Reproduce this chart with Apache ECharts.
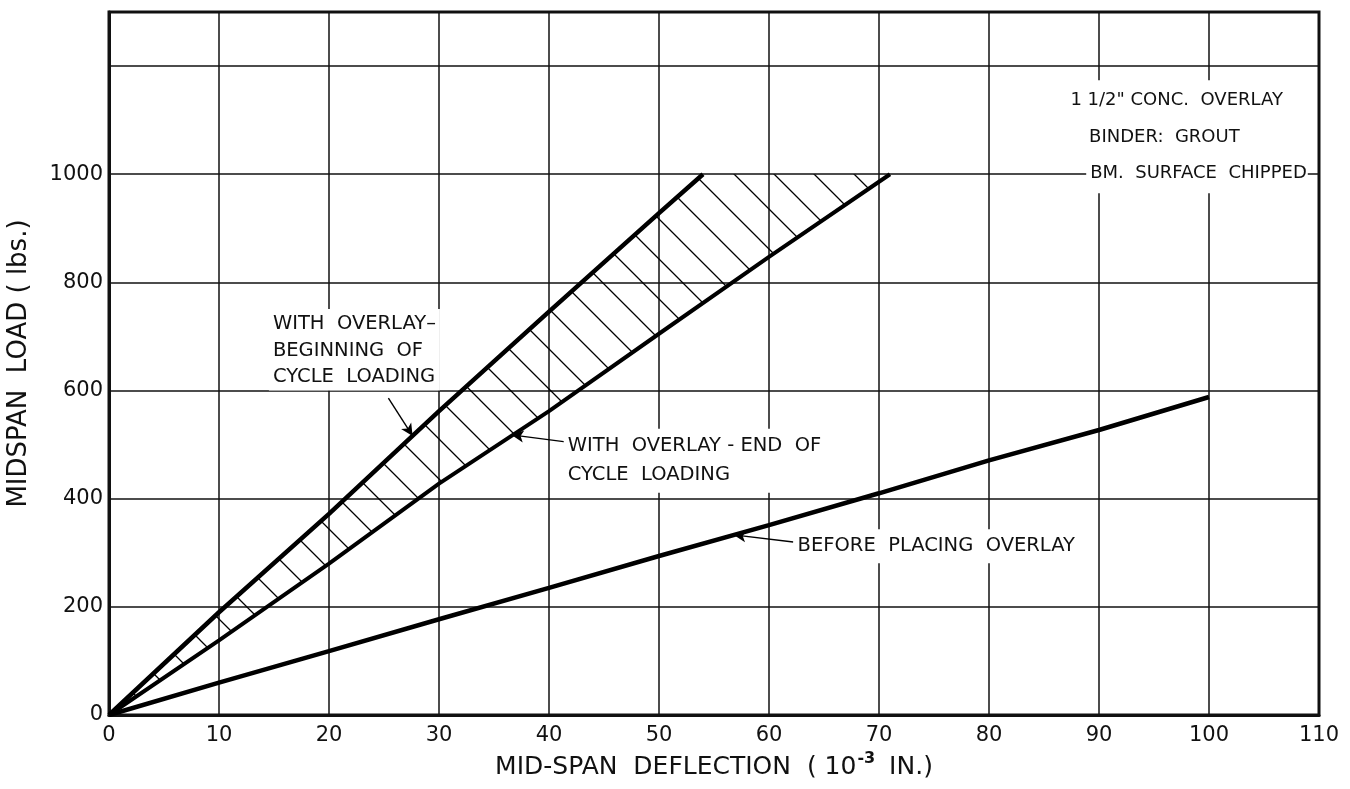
<!DOCTYPE html>
<html>
<head>
<meta charset="utf-8">
<script src="https://cdn.jsdelivr.net/npm/echarts@6/dist/echarts.min.js"></script>
<style>
  html, body { margin: 0; padding: 0; background: #fff; }
  #chart { width: 1350px; height: 789px; }
</style>
</head>
<body>
<div id="chart"></div>
<script>
// Mid-span deflection (10^-3 in.) vs. midspan load (lbs.)
const beforeOverlay = [[0, 0], [10, 60], [20, 118], [30, 177], [40, 235], [50, 294], [60, 351], [70, 410], [80, 471], [90, 527], [100, 588]];
const overlayBegin  = [[0, 0], [10, 190], [20, 372], [30, 562], [40, 746], [50, 928], [54, 1000]];
const overlayEnd    = [[0, 0], [10, 138], [20, 280], [30, 428], [40, 562], [50, 705], [60, 847], [71, 1000]];
const yTickLabels   = [0, 200, 400, 600, 800, 1000];

const FONT = 'DejaVu Sans';
const INK = '#111';

// Band between the two overlay curves (closed polygon)
const bandPolygon = overlayBegin.concat(overlayEnd.slice().reverse());

// Diagonal hatch tile for the band
function hatchPattern(size) {
  const c = document.createElement('canvas');
  c.width = size; c.height = size;
  const g = c.getContext('2d');
  g.strokeStyle = '#000';
  g.lineWidth = 1.3;
  g.beginPath();
  g.moveTo(-3, -3); g.lineTo(size + 3, size + 3);
  g.moveTo(size - 3, -3); g.lineTo(size + 3, 3);
  g.moveTo(-3, size - 3); g.lineTo(3, size + 3);
  g.stroke();
  return { image: c, repeat: 'repeat' };
}

const chart = echarts.init(document.getElementById('chart'), null, { renderer: 'canvas' });

chart.setOption({
  animation: false,
  backgroundColor: '#fff',
  grid: {
    left: 109, right: 31, top: 12, bottom: 74,
    outerBoundsMode: 'none',
    show: true, borderColor: INK, borderWidth: 3
  },
  xAxis: {
    type: 'value', min: 0, max: 110, interval: 10,
    axisLine: { show: true, lineStyle: { color: INK, width: 3 } },
    axisTick: { show: false },
    splitLine: { show: true, lineStyle: { color: INK, width: 1.5 } },
    axisLabel: { color: INK, fontFamily: FONT, fontSize: 21, margin: 10 },
    name: 'MID-SPAN  DEFLECTION  ( 10{sup|-3} IN.)',
    nameLocation: 'middle', nameGap: 36,
    nameTextStyle: {
      color: INK, fontFamily: FONT, fontSize: 25, lineHeight: 32,
      rich: { sup: { fontFamily: FONT, fontSize: 16, fontWeight: 'bold', color: INK, verticalAlign: 'top', lineHeight: 32, padding: [0, 6, 16, 1] } }
    }
  },
  yAxis: {
    type: 'value', min: 0, max: 1300, interval: 200,
    axisLine: { show: true, lineStyle: { color: INK, width: 3 } },
    axisTick: { show: false },
    splitLine: { show: true, lineStyle: { color: INK, width: 1.5 } },
    axisLabel: {
      color: INK, fontFamily: FONT, fontSize: 21, margin: 6,
      formatter: v => (yTickLabels.indexOf(v) >= 0 ? String(v) : '')
    },
    name: 'MIDSPAN  LOAD ( lbs.)',
    nameLocation: 'middle', nameGap: 77,
    nameTextStyle: { color: INK, fontFamily: FONT, fontSize: 26 }
  },
  series: [
    {
      type: 'custom',
      name: 'band',
      coordinateSystem: 'cartesian2d',
      data: bandPolygon,
      z: 1,
      silent: true,
      renderItem: function (params, api) {
        if (params.dataIndex !== 0) return null;
        const pts = bandPolygon.map(p => api.coord(p));
        return {
          type: 'polygon',
          shape: { points: pts },
          style: { fill: hatchPattern(40), stroke: null }
        };
      }
    },
    {
      type: 'line', name: 'WITH OVERLAY-BEGINNING OF CYCLE LOADING',
      data: overlayBegin, symbol: 'none', z: 3,
      lineStyle: { color: '#000', width: 4.5 }
    },
    {
      type: 'line', name: 'WITH OVERLAY-END OF CYCLE LOADING',
      data: overlayEnd, symbol: 'none', z: 3,
      lineStyle: { color: '#000', width: 4 }
    },
    {
      type: 'line', name: 'BEFORE PLACING OVERLAY',
      data: beforeOverlay, symbol: 'none', z: 3,
      lineStyle: { color: '#000', width: 4.5 },
      markLine: {
        silent: true,
        symbol: ['none', 'arrow'],
        symbolSize: [9, 12],
        label: { show: false },
        lineStyle: { color: '#000', width: 1.4, type: 'solid' },
        data: [
          [{ coord: [25.4, 586] }, { coord: [27.6, 516] }],
          [{ coord: [41.5, 505] }, { coord: [36.6, 518] }],
          [{ coord: [62.2, 320] }, { coord: [56.8, 333] }]
        ]
      }
    }
  ]
});

// Annotation text, anchored in data coordinates
const notes = [
  { at: [14.9, 747], text: 'WITH  OVERLAY–\nBEGINNING  OF\nCYCLE  LOADING', size: 19.5, lh: 26.5, pad: [2, 4, 0, 4] },
  { at: [41.7, 524], text: 'WITH  OVERLAY - END  OF\nCYCLE  LOADING', size: 19.5, lh: 29, pad: [3, 6, 3, 4] },
  { at: [62.6, 338], text: 'BEFORE  PLACING  OVERLAY', size: 19.5, lh: 28, pad: [3, 6, 3, 4] },
  { at: [87.4, 1170], text: '1 1/2" CONC.  OVERLAY', size: 18, lh: 36, pad: [2, 24, 1, 4] },
  { at: [89.1, 1102], text: 'BINDER:  GROUT', size: 18, lh: 36, pad: [2, 72, 1, 4] },
  { at: [89.2, 1035], text: 'BM.  SURFACE  CHIPPED', size: 18, lh: 36, pad: [2, 1, 2, 4] }
];

chart.setOption({
  graphic: notes.map(n => {
    const p = chart.convertToPixel({ gridIndex: 0 }, n.at);
    return {
      type: 'text',
      x: p[0] - n.pad[3],
      y: p[1] - n.pad[0],
      z: 10,
      silent: true,
      style: {
        text: n.text,
        fill: INK,
        fontFamily: FONT,
        fontSize: n.size,
        lineHeight: n.lh,
        align: 'left',
        verticalAlign: 'top',
        backgroundColor: '#fff',
        padding: n.pad
      }
    };
  })
});
</script>
</body>
</html>
